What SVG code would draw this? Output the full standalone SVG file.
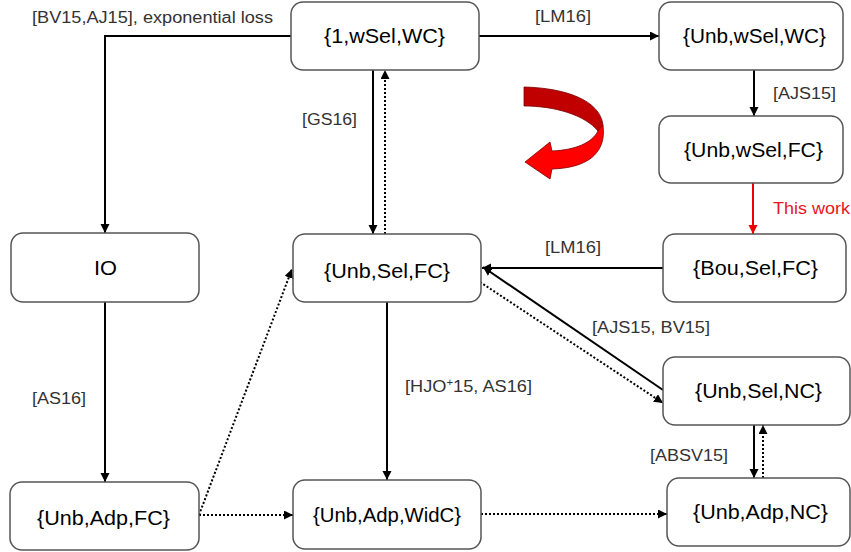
<svg xmlns="http://www.w3.org/2000/svg" width="851" height="552" viewBox="0 0 851 552">
<style>
.box{fill:#fff;stroke:#555;stroke-width:1.5}
.nt{font-family:"Liberation Sans",Arial,sans-serif;font-size:20px;fill:#000}
.lb{font-family:"Liberation Sans",Arial,sans-serif;font-size:16px;fill:#333}
.red{fill:#e8141b}
.s{fill:none;stroke:#000;stroke-width:2;marker-end:url(#ah)}
.d{fill:none;stroke:#000;stroke-width:2;stroke-dasharray:2 2;marker-end:url(#ah)}
.r{fill:none;stroke:#e00;stroke-width:2;marker-end:url(#ahr)}
</style>
<defs>
<marker id="ah" markerUnits="userSpaceOnUse" markerWidth="10" markerHeight="10" refX="9" refY="4.5" orient="auto">
<path d="M0,0 L9,4.5 L0,9 z" fill="#000"/>
</marker>
<marker id="ahr" markerUnits="userSpaceOnUse" markerWidth="10" markerHeight="10" refX="9" refY="4.5" orient="auto">
<path d="M0,0 L9,4.5 L0,9 z" fill="#e00"/>
</marker>
</defs>
<rect width="851" height="552" fill="#fff"/>
<g id="connectors">
<path class="s" d="M291,36 H105 V233"/>
<path class="s" d="M479,36 H659"/>
<path class="s" d="M754,70 V116"/>
<path class="r" d="M753,183 V234"/>
<path class="s" d="M663,268 H482"/>
<path class="s" d="M373,70 V234"/>
<path class="d" d="M385,234 V70"/>
<path class="s" d="M663,390 L483,267"/>
<path class="d" d="M480,282 L663,403"/>
<path class="s" d="M387,302 V480"/>
<path class="s" d="M105,302 V482"/>
<path class="d" d="M199,515 L292,269"/>
<path class="d" d="M199,515 H293"/>
<path class="d" d="M481,514 H667"/>
<path class="s" d="M754,425 V478"/>
<path class="d" d="M763,478 V425"/>
</g>
<g id="labels">
<text class="lb" x="32" y="23" textLength="241" lengthAdjust="spacingAndGlyphs">[BV15,AJ15], exponential loss</text>
<text class="lb" x="535" y="22" textLength="56" lengthAdjust="spacingAndGlyphs">[LM16]</text>
<text class="lb" x="773" y="99" textLength="63" lengthAdjust="spacingAndGlyphs">[AJS15]</text>
<text class="lb red" x="773" y="214" textLength="77" lengthAdjust="spacingAndGlyphs">This work</text>
<text class="lb" x="545" y="253" textLength="56" lengthAdjust="spacingAndGlyphs">[LM16]</text>
<text class="lb" x="302" y="125" textLength="55" lengthAdjust="spacingAndGlyphs">[GS16]</text>
<text class="lb" x="592" y="333" textLength="118" lengthAdjust="spacingAndGlyphs">[AJS15, BV15]</text>
<text class="lb" x="405" y="392" textLength="127" lengthAdjust="spacingAndGlyphs">[HJO<tspan font-size="10" dy="-6">+</tspan><tspan dy="6">15, AS16]</tspan></text>
<text class="lb" x="32" y="404" textLength="54" lengthAdjust="spacingAndGlyphs">[AS16]</text>
<text class="lb" x="650" y="461" textLength="78" lengthAdjust="spacingAndGlyphs">[ABSV15]</text>
</g>
<g id="curved-arrow">
<path d="M524,87 C565,88 600,100 603,125 L598,131 C585,115 555,106 524,106 Z" fill="#c00000" stroke="#700" stroke-width="0.8"/>
<path d="M598,131 L603,125 C607,155 585,168 552,169 L550,179 L525,162 L550,142 L552,151 C575,150 592,143 598,131 Z" fill="#ff0000" stroke="#700" stroke-width="0.8"/>
</g>
<g id="n1"><rect class="box" x="291" y="2" width="188" height="68" rx="12"/><text class="nt" x="324" y="43" textLength="121" lengthAdjust="spacingAndGlyphs">{1,wSel,WC}</text></g>
<g id="n2"><rect class="box" x="659" y="2" width="184" height="68" rx="12"/><text class="nt" x="683" y="43" textLength="143" lengthAdjust="spacingAndGlyphs">{Unb,wSel,WC}</text></g>
<g id="n3"><rect class="box" x="659" y="116" width="184" height="67" rx="12"/><text class="nt" x="684" y="157" textLength="139" lengthAdjust="spacingAndGlyphs">{Unb,wSel,FC}</text></g>
<g id="n4"><rect class="box" x="11" y="233" width="188" height="69" rx="12"/><text class="nt" x="94" y="275" textLength="23" lengthAdjust="spacingAndGlyphs">IO</text></g>
<g id="n5"><rect class="box" x="293" y="234" width="188" height="68" rx="12"/><text class="nt" x="324" y="278" textLength="126" lengthAdjust="spacingAndGlyphs">{Unb,Sel,FC}</text></g>
<g id="n6"><rect class="box" x="663" y="234" width="183" height="68" rx="12"/><text class="nt" x="693" y="275" textLength="125" lengthAdjust="spacingAndGlyphs">{Bou,Sel,FC}</text></g>
<g id="n7"><rect class="box" x="663" y="357" width="187" height="68" rx="12"/><text class="nt" x="695" y="398" textLength="127" lengthAdjust="spacingAndGlyphs">{Unb,Sel,NC}</text></g>
<g id="n8"><rect class="box" x="10" y="482" width="189" height="68" rx="12"/><text class="nt" x="37" y="525" textLength="133" lengthAdjust="spacingAndGlyphs">{Unb,Adp,FC}</text></g>
<g id="n9"><rect class="box" x="293" y="480" width="188" height="69" rx="12"/><text class="nt" x="313" y="522" textLength="148" lengthAdjust="spacingAndGlyphs">{Unb,Adp,WidC}</text></g>
<g id="n10"><rect class="box" x="667" y="478" width="183" height="68" rx="12"/><text class="nt" x="693" y="519" textLength="135" lengthAdjust="spacingAndGlyphs">{Unb,Adp,NC}</text></g>
</svg>
